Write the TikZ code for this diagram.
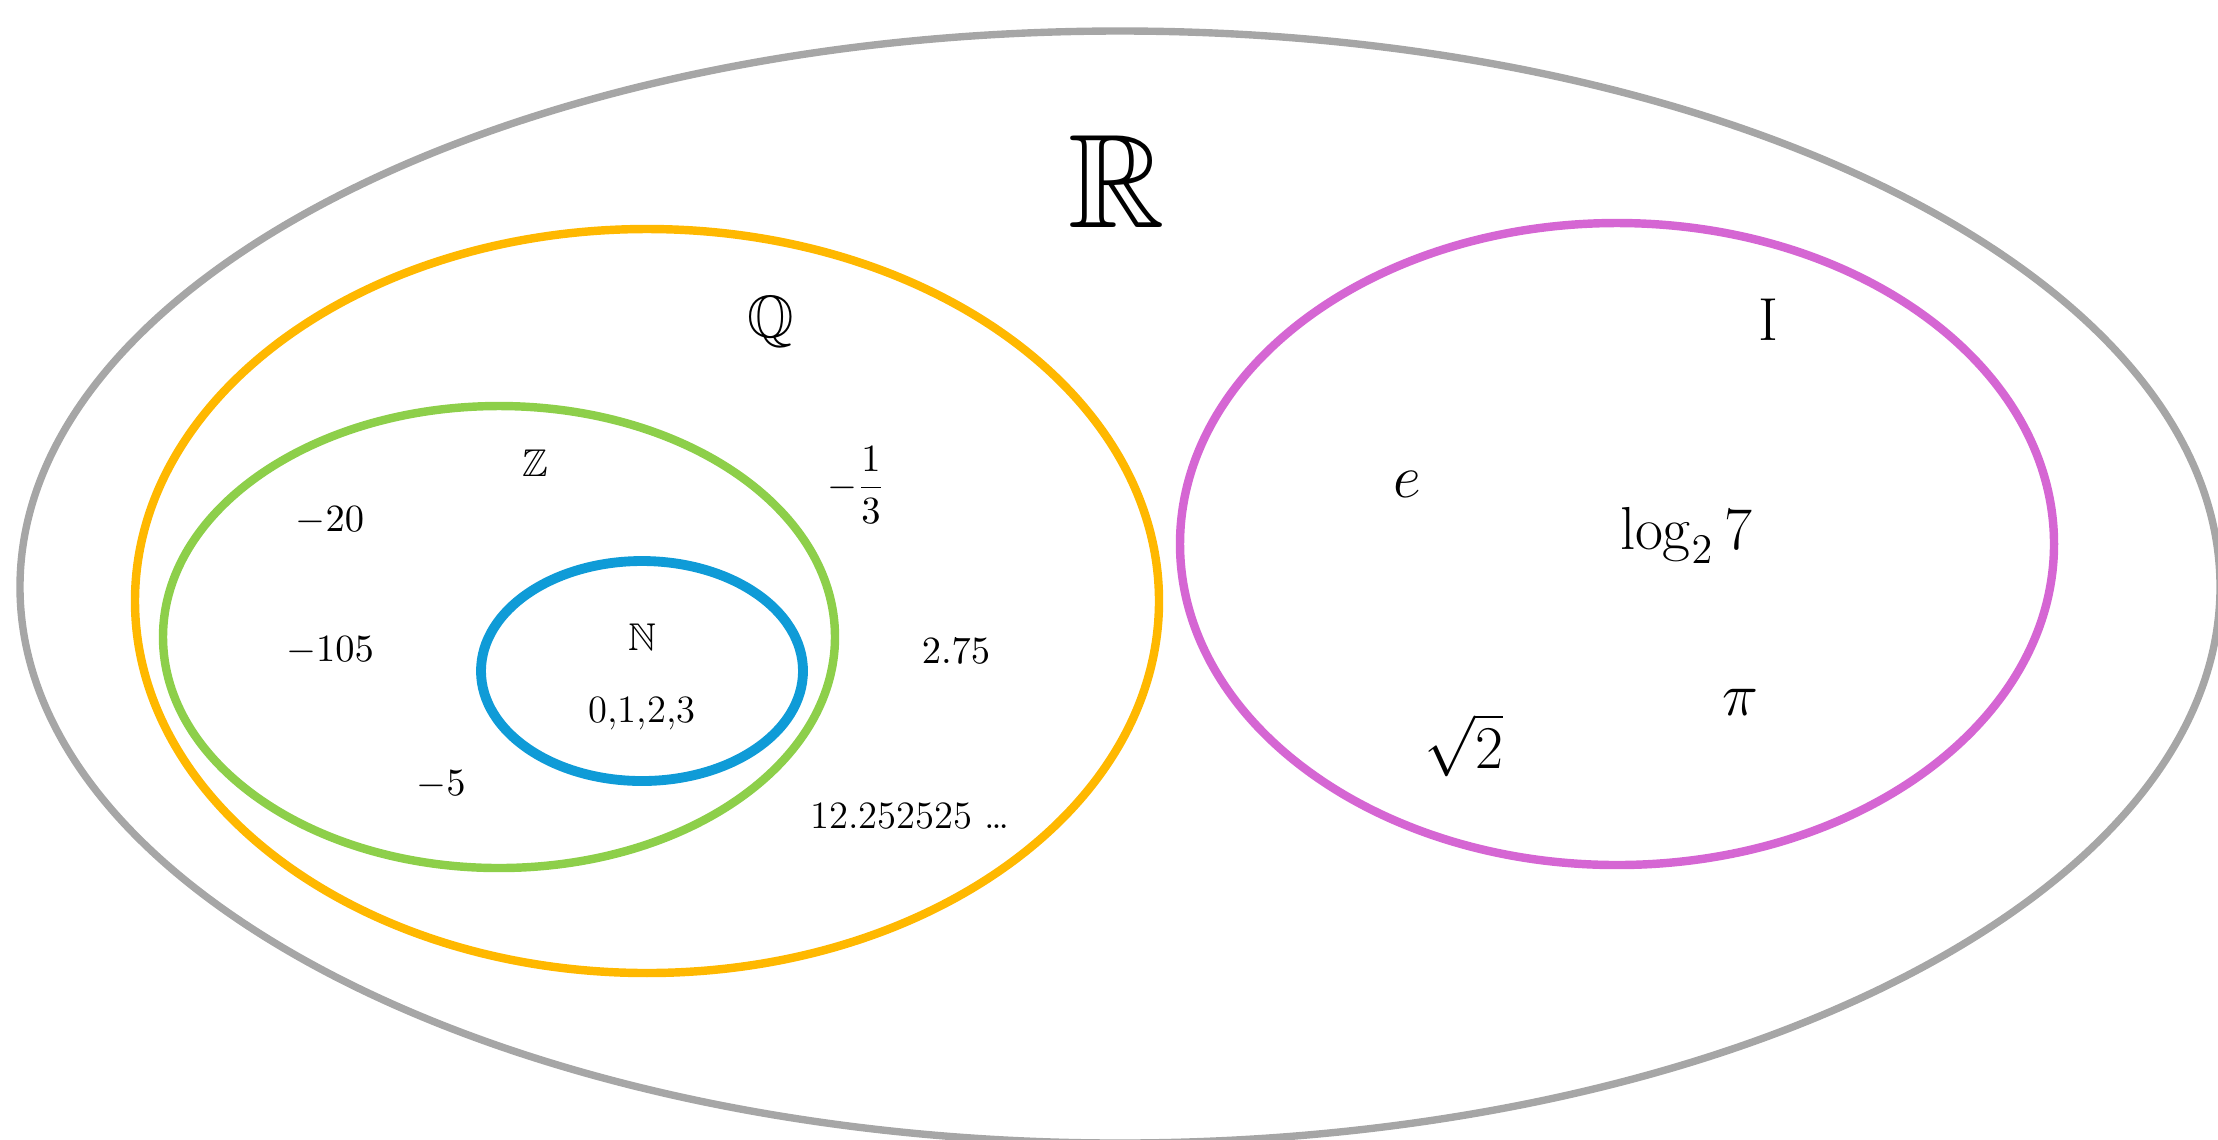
\documentclass[tikz,border=0pt]{standalone}
\usepackage{amsmath}
\usepackage{amssymb}
\usepackage{xcolor}
\usepackage{tikz}

\definecolor{realgray}{HTML}{A6A6A6}
\definecolor{ratorange}{HTML}{FFB800}
\definecolor{intgreen}{HTML}{8DCF4A}
\definecolor{natblue}{HTML}{0F9BD7}
\definecolor{irrpink}{HTML}{D566D3}

\tikzset{
  setline/.style={line width=2.4pt},
  numlabel/.style={font=\fontsize{11}{13}\selectfont, inner sep=0pt},
  biglabel/.style={font=\fontsize{17}{20}\selectfont, inner sep=0pt}
}

\begin{document}
\begin{tikzpicture}
    \useasboundingbox (0,0) rectangle (22.18,-11.39);

    \coordinate (real) at (11.20,-5.87);
    \coordinate (rat) at (6.47,-6.01);
    \coordinate (int) at (4.99,-6.37);
    \coordinate (nat) at (6.42,-6.71);
    \coordinate (irr) at (16.17,-5.44);

    \draw[realgray, line width=2.1pt] (real) ellipse [x radius=11.0cm, y radius=5.56cm];
    \draw[ratorange, setline] (rat) ellipse [x radius=5.12cm, y radius=3.72cm];
    \draw[intgreen, setline] (int) ellipse [x radius=3.36cm, y radius=2.31cm];
    \draw[natblue, line width=2.8pt] (nat) ellipse [x radius=1.61cm, y radius=1.10cm];
    \draw[irrpink, setline] (irr) ellipse [x radius=4.37cm, y radius=3.21cm];

    \node[font=\fontsize{38}{40}\selectfont, inner sep=0pt] (lreal) at (11.17,-1.81) {$\mathbb{R}$};
    \foreach \name/\x/\y/\label in {
        lrat/7.71/-3.22/$\mathbb{Q}$,
        lirr/17.68/-3.20/$\mathrm{I}$,
        ne/14.07/-4.84/$e$,
        nlog/16.86/-5.35/$\log_2 7$,
        npi/17.40/-7.02/$\pi$,
        nsqrt/14.64/-7.45/$\sqrt{2}$
    }{
        \node[biglabel] (\name) at (\x,\y) {\label};
    }
    \foreach \name/\x/\y/\label in {
        lint/5.35/-4.63/$\mathbb{Z}$,
        lnat/6.42/-6.37/$\mathbb{N}$,
        nthird/8.56/-4.85/$-\dfrac{1}{3}$,
        ntwenty/3.30/-5.21/$-20$,
        nhundred/3.30/-6.51/$-105$,
        nfive/4.41/-7.85/$-5$,
        nnat/6.42/-7.13/{0,1,2,3},
        ndec/9.56/-6.51/$2.75$,
        nrep/9.10/-8.16/{12.252525 \ldots}
    }{
        \node[numlabel] (\name) at (\x,\y) {\label};
    }
\end{tikzpicture}
\end{document}
